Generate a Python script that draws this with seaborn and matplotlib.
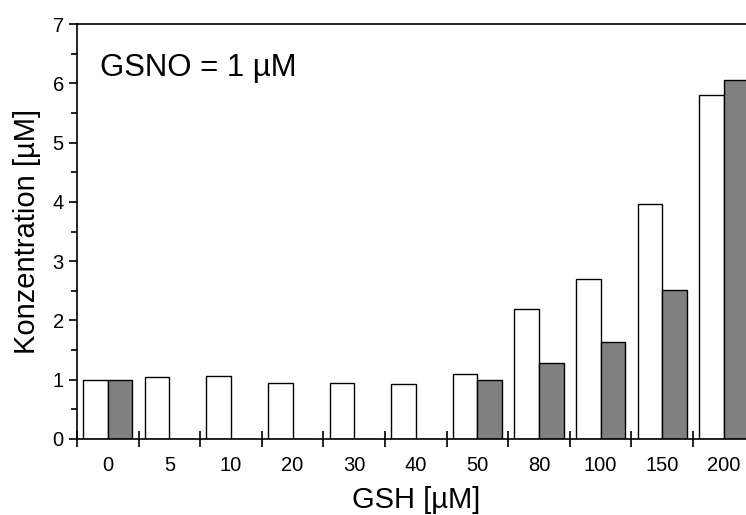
import numpy as np
import pandas as pd
import seaborn as sns
from matplotlib import pyplot as plt
from matplotlib import ticker

gsh = ['0', '5', '10', '20', '30', '40', '50', '80', '100', '150', '200']
white = [1.00, 1.05, 1.07, 0.95, 0.95, 0.93, 1.10, 2.20, 2.70, 3.97, 5.80]
grey = [1.00, 0.0, 0.0, 0.0, 0.0, 0.0, 1.00, 1.29, 1.63, 2.52, 6.05]

df = pd.DataFrame({
    'GSH': gsh * 2,
    'val': white + grey,
    'series': ['a'] * len(gsh) + ['b'] * len(gsh),
})

sns.set_style('ticks')
plt.rcParams['font.family'] = ['Liberation Sans', 'DejaVu Sans']
plt.rcParams['text.color'] = 'black'
plt.rcParams['axes.labelcolor'] = 'black'
plt.rcParams['xtick.color'] = 'black'
plt.rcParams['ytick.color'] = 'black'

fig = plt.figure(figsize=(7.46, 5.15), dpi=100)
ax = fig.add_axes([77 / 746, 76 / 515, 677.6 / 746, 415 / 515])

sns.barplot(data=df, x='GSH', y='val', hue='series', order=gsh,
            palette=['white', '#808080'], edgecolor='black', linewidth=1.0,
            width=0.8, ax=ax, legend=False)

ax.set_xlim(-0.5, 10.5)
ax.set_ylim(0, 7)
ax.yaxis.set_major_locator(ticker.MultipleLocator(1))
ax.yaxis.set_minor_locator(ticker.MultipleLocator(0.5))
ax.tick_params(axis='y', which='major', length=6, width=1.2, direction='out', labelsize=14.5)
ax.tick_params(axis='y', which='minor', length=4, width=1.2, direction='out')

ax.set_xticks(range(len(gsh)))
ax.set_xticklabels(gsh)
ax.set_xticks(np.arange(-0.5, 10.0, 1.0), minor=True)
ax.tick_params(axis='x', which='major', length=0, labelsize=14.5, pad=12)
ax.tick_params(axis='x', which='minor', length=12, width=1.2, direction='inout')

for side in ['left', 'bottom', 'top']:
    ax.spines[side].set_linewidth(1.2)
    ax.spines[side].set_color('black')
ax.spines['right'].set_visible(False)

ax.set_xlabel('GSH [µM]', fontsize=21, labelpad=8)
ax.set_ylabel('Konzentration [µM]', fontsize=21, labelpad=8)
ax.text(0.034, 0.893, 'GSNO = 1 µM', transform=ax.transAxes, fontsize=22.4,
        ha='left', va='center')

fig.savefig('out.png', dpi=100)
